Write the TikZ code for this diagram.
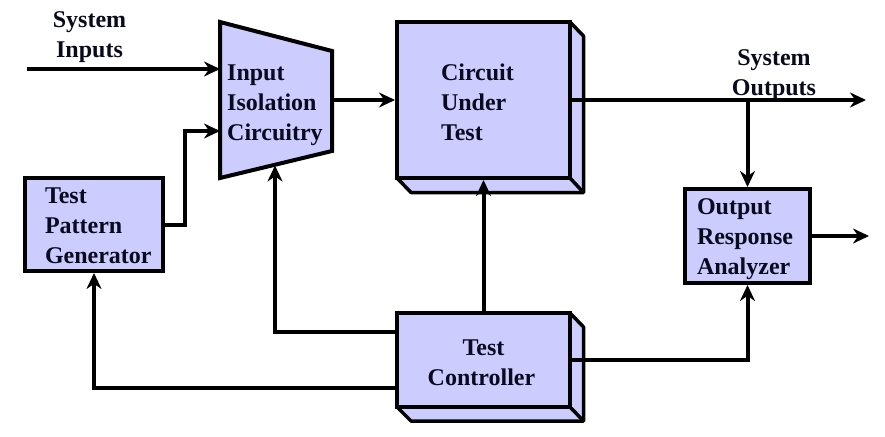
\documentclass[tikz,border=0pt]{standalone}
\usepackage{fontspec}
\setmainfont{Liberation Serif}
\usetikzlibrary{arrows.meta}
\definecolor{boxfill}{HTML}{CCCCFF}
\definecolor{inkdark}{HTML}{0A0A1E}
\tikzset{
  x=1pt,y=-1pt,
  every node/.style={font=\fontsize{24}{30}\selectfont\bfseries,text=inkdark},
  line/.style={line width=4pt,draw=black,line join=miter},
  arrow/.style={line,-{Stealth[length=16pt,width=15pt]}},
  body/.style={line,fill=boxfill},
  drop/.style={execute at begin node={\rule{0pt}{#1}}},
  depth/.style={line,fill=boxfill,line width=3.5pt,line join=round},
  blockbox/.style n args={3}{body,rectangle,inner ysep=0pt,inner xsep=#3,minimum width=#1,minimum height=#2,text width=#1-2*#3-4pt,align=left},
  centerbox/.style 2 args={body,rectangle,inner ysep=0pt,inner xsep=10pt,minimum width=#1,minimum height=#2,text width=#1-24pt,align=center},
  plain/.style={inner sep=0pt,align=center},
  plainleft/.style={inner sep=0pt,align=left,anchor=west}
}
\begin{document}
\begin{tikzpicture}
\useasboundingbox (0,0) rectangle (885,436);
\fill[white] (0,0) rectangle (885,436);
% depth of the three-dimensional blocks
\path[depth] (397,22) -- (570,22) -- (583.5,36) -- (583.5,192.5) -- (411,192.5) -- (397,178) -- cycle;
\draw[depth] (570,178) -- (583.5,192.5);
\path[depth] (397,313) -- (570,313) -- (583.5,327) -- (583.5,421) -- (411,421) -- (397,407) -- cycle;
\draw[depth] (570,407) -- (583.5,421);
% blocks
\node[blockbox={173}{156}{42},drop=20.6pt] (cut) at (483.5,100) {Circuit\\Under\\Test};
\node[centerbox={173}{94},drop=21pt] (ctl) at (483.5,360) {Test\hspace*{4pt}\\Controller\hspace*{4pt}};
\node[blockbox={138}{93}{18},drop=18pt] (tpg) at (94,224.5) {Test\\Pattern\\Generator};
\node[blockbox={125}{94}{10},drop=22.6pt] (ora) at (747.5,236) {Output\\Response\\Analyzer};
% trapezoid
\coordinate (tl) at (220,22);
\coordinate (tr) at (332,51);
\coordinate (br) at (332,151);
\coordinate (bl) at (220,178);
\draw[body] (tl) -- (tr) -- (br) -- (bl) -- cycle;
\node[plainleft] (iso) at (227,105.5) {Input\\Isolation\\Circuitry};
% labels
\node[plain] (sin) at (89.5,37.5) {System\\Inputs};
\node[plain] (sout) at (774,75.5) {System\\Outputs};
% free ends and ports
\coordinate (inA) at (27,69);
\coordinate (isoA) at (220,69);
\coordinate (isoB) at (220,131);
\coordinate (isoOut) at (332,100);
\coordinate (isoC) at (275,165.5);
\coordinate (outEnd) at (866,100);
\coordinate (split) at (747.5,100);
\coordinate (oraEnd) at (869,236);
\coordinate (ctlA) at (397,332);
\coordinate (ctlB) at (397,388);
\coordinate (ctlC) at (570,360);
% connectors
\draw[arrow] (inA) -- (isoA);
\draw[arrow] (tpg.east) -| (185,131) -- (isoB);
\draw[arrow] (isoOut) -- (cut.west);
\draw[arrow] (cut.east) -- (outEnd);
\draw[arrow] (split) -- (ora.north);
\draw[arrow] (ora.east) -- (oraEnd);
\draw[arrow] (ctl.north) -- (cut.south);
\draw[arrow] (ctlA) -| (isoC);
\draw[arrow] (ctlB) -| (tpg.south);
\draw[arrow] (ctlC) -| (ora.south);
\end{tikzpicture}
\end{document}
